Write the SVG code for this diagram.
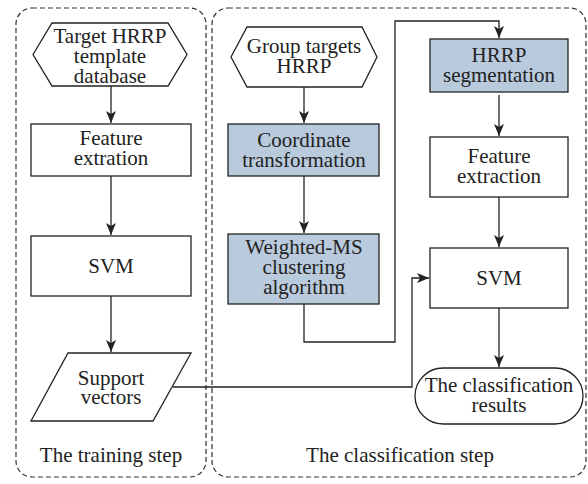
<svg xmlns="http://www.w3.org/2000/svg" width="588" height="484" viewBox="0 0 588 484">
  <style>
    .frame { fill: none; stroke: #333; stroke-width: 1.2; stroke-dasharray: 5 3; }
    .box { fill: #fff; stroke: #222; stroke-width: 1.3; }
    .hl { fill: #b9cadd; stroke: #222; stroke-width: 1.3; }
    .lbl { font-family: "Liberation Serif", "Times New Roman", serif; font-size: 21px; fill: #222; text-anchor: middle; }
    .edge { fill: none; stroke: #222; stroke-width: 1.3; }
  </style>
  <defs>
    <marker id="arr" viewBox="0 0 12 10" refX="12" refY="5" markerWidth="12" markerHeight="10" markerUnits="userSpaceOnUse" orient="auto">
      <path d="M0,0 L12,5 L0,10 L3,5 Z" fill="#222"/>
    </marker>
  </defs>
  <rect width="588" height="484" fill="#fff"/>

  <!-- step frames -->
  <g id="training-step">
    <rect class="frame" x="16" y="8" width="190" height="469" rx="16"/>
    <text class="lbl" x="111" y="462">The training step</text>
  </g>
  <g id="classification-step">
    <rect class="frame" x="212" y="8" width="374" height="469" rx="16"/>
    <text class="lbl" x="400" y="462">The classification step</text>
  </g>

  <!-- connectors -->
  <g id="connectors">
    <path class="edge" d="M111,86 V123" marker-end="url(#arr)"/>
    <path class="edge" d="M111,176 V235" marker-end="url(#arr)"/>
    <path class="edge" d="M111,296 V352" marker-end="url(#arr)"/>
    <path class="edge" d="M173,387 H412 V278 H429" marker-end="url(#arr)"/>
    <path class="edge" d="M304,87 V123" marker-end="url(#arr)"/>
    <path class="edge" d="M304,176 V233" marker-end="url(#arr)"/>
    <path class="edge" d="M304,304 V342 H395 V21 H499 V38" marker-end="url(#arr)"/>
    <path class="edge" d="M499,95 V136" marker-end="url(#arr)"/>
    <path class="edge" d="M499,197 V247" marker-end="url(#arr)"/>
    <path class="edge" d="M499,308 V367" marker-end="url(#arr)"/>
  </g>

  <!-- training nodes -->
  <g id="template-db">
    <polygon class="box" points="33,54.5 52,23 168,23 187,54.5 168,86 52,86"/>
    <text class="lbl" x="110" y="43">Target HRRP</text>
    <text class="lbl" x="110" y="63">template</text>
    <text class="lbl" x="110" y="83">database</text>
  </g>
  <g id="feature-train">
    <rect class="box" x="31" y="124" width="160" height="52"/>
    <text class="lbl" x="111" y="145">Feature</text>
    <text class="lbl" x="111" y="165">extration</text>
  </g>
  <g id="svm-train">
    <rect class="box" x="31" y="236" width="160" height="60"/>
    <text class="lbl" x="111" y="273">SVM</text>
  </g>
  <g id="support-vectors">
    <polygon class="box" points="68,353 191,353 153,421 31,421"/>
    <text class="lbl" x="111" y="385">Support</text>
    <text class="lbl" x="111" y="404">vectors</text>
  </g>

  <!-- classification nodes -->
  <g id="group-hrrp">
    <polygon class="box" points="231,57 247,27 362,27 377,57 362,87 247,87"/>
    <text class="lbl" x="304" y="53">Group targets</text>
    <text class="lbl" x="304" y="73">HRRP</text>
  </g>
  <g id="coord-transform">
    <rect class="hl" x="228" y="124" width="151" height="52"/>
    <text class="lbl" x="304" y="147">Coordinate</text>
    <text class="lbl" x="304" y="167">transformation</text>
  </g>
  <g id="weighted-ms">
    <rect class="hl" x="228" y="234" width="151" height="70"/>
    <text class="lbl" x="304" y="254">Weighted-MS</text>
    <text class="lbl" x="304" y="274">clustering</text>
    <text class="lbl" x="304" y="294">algorithm</text>
  </g>
  <g id="hrrp-seg">
    <rect class="hl" x="430" y="39" width="138" height="53"/>
    <text class="lbl" x="499" y="62">HRRP</text>
    <text class="lbl" x="499" y="82">segmentation</text>
  </g>
  <g id="feature-cls">
    <rect class="box" x="430" y="137" width="138" height="60"/>
    <text class="lbl" x="499" y="163">Feature</text>
    <text class="lbl" x="499" y="183">extraction</text>
  </g>
  <g id="svm-cls">
    <rect class="box" x="430" y="248" width="138" height="60"/>
    <text class="lbl" x="499" y="285">SVM</text>
  </g>
  <g id="results">
    <rect class="box" x="415" y="368" width="168" height="56" rx="28"/>
    <text class="lbl" x="499" y="392">The classification</text>
    <text class="lbl" x="499" y="412">results</text>
  </g>
</svg>
